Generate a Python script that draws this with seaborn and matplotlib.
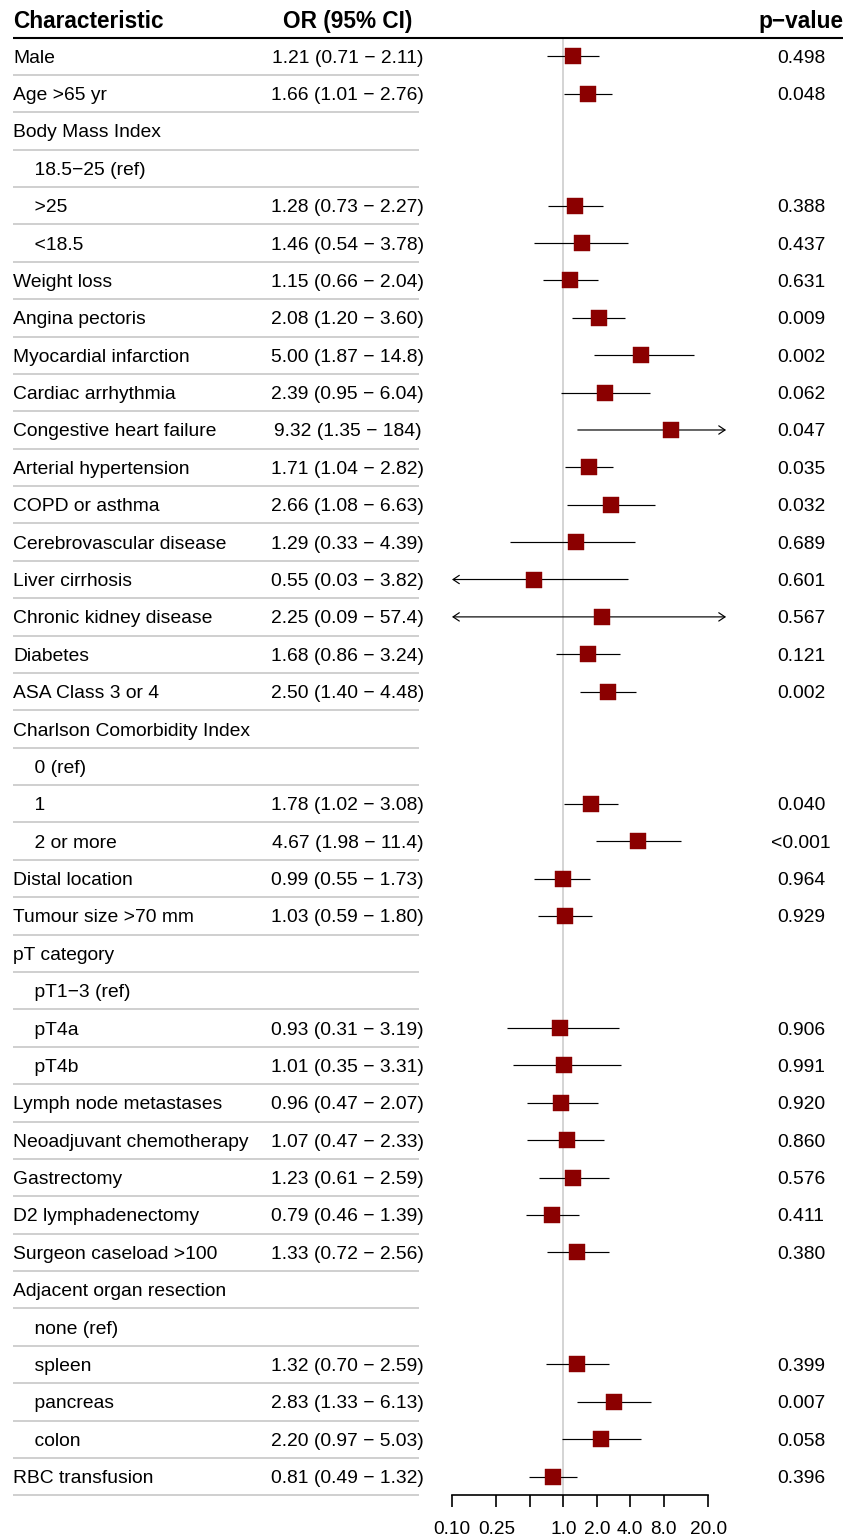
import numpy as np
import pandas as pd
import matplotlib
matplotlib.use("Agg")
import matplotlib.pyplot as plt
import matplotlib.transforms as mtransforms
import seaborn as sns

# ---- data -------------------------------------------------------------
labels = [
    "Male", "Age >65 yr", "Body Mass Index", "    18.5\u221225 (ref)", "    >25", "    <18.5",
    "Weight loss", "Angina pectoris", "Myocardial infarction", "Cardiac arrhythmia",
    "Congestive heart failure", "Arterial hypertension", "COPD or asthma",
    "Cerebrovascular disease", "Liver cirrhosis", "Chronic kidney disease", "Diabetes",
    "ASA Class 3 or 4", "Charlson Comorbidity Index", "    0 (ref)", "    1", "    2 or more",
    "Distal location", "Tumour size >70 mm", "pT category", "    pT1\u22123 (ref)", "    pT4a",
    "    pT4b", "Lymph node metastases", "Neoadjuvant chemotherapy", "Gastrectomy",
    "D2 lymphadenectomy", "Surgeon caseload >100", "Adjacent organ resection",
    "    none (ref)", "    spleen", "    pancreas", "    colon", "RBC transfusion",
]
nan = np.nan
odds = [1.21, 1.66, nan, nan, 1.28, 1.46, 1.15, 2.08, 5.00, 2.39, 9.32, 1.71, 2.66, 1.29,
        0.55, 2.25, 1.68, 2.50, nan, nan, 1.78, 4.67, 0.99, 1.03, nan, nan, 0.93, 1.01,
        0.96, 1.07, 1.23, 0.79, 1.33, nan, nan, 1.32, 2.83, 2.20, 0.81]
ci_low = [0.71, 1.01, nan, nan, 0.73, 0.54, 0.66, 1.20, 1.87, 0.95, 1.35, 1.04, 1.08, 0.33,
          0.03, 0.09, 0.86, 1.40, nan, nan, 1.02, 1.98, 0.55, 0.59, nan, nan, 0.31, 0.35,
          0.47, 0.47, 0.61, 0.46, 0.72, nan, nan, 0.70, 1.33, 0.97, 0.49]
ci_high = [2.11, 2.76, nan, nan, 2.27, 3.78, 2.04, 3.60, 14.8, 6.04, 184, 2.82, 6.63, 4.39,
           3.82, 57.4, 3.24, 4.48, nan, nan, 3.08, 11.4, 1.73, 1.80, nan, nan, 3.19, 3.31,
           2.07, 2.33, 2.59, 1.39, 2.56, nan, nan, 2.59, 6.13, 5.03, 1.32]
p_text = ["0.498", "0.048", "", "", "0.388", "0.437", "0.631", "0.009", "0.002", "0.062",
          "0.047", "0.035", "0.032", "0.689", "0.601", "0.567", "0.121", "0.002", "", "",
          "0.040", "<0.001", "0.964", "0.929", "", "", "0.906", "0.991", "0.920", "0.860",
          "0.576", "0.411", "0.380", "", "", "0.399", "0.007", "0.058", "0.396"]

headers = ["Characteristic", "OR (95% CI)", "p\u2212value"]
x_ticks = [0.1, 0.25, 0.5, 1, 2, 4, 8, 20]
x_tick_labels = ["0.10", "0.25", "", "1.0", "2.0", "4.0", "8.0", "20.0"]
x_limits = (0.1, 29.0)


def fmt(v):
    return f"{v:.2f}" if v < 10 else f"{v:.3g}"


df = pd.DataFrame({"label": labels, "odds": odds, "low": ci_low, "high": ci_high, "p": p_text})
df["row"] = np.arange(len(df))
df["or_text"] = [
    "" if np.isnan(o) else f"{fmt(o)} ({fmt(lo)} \u2212 {fmt(hi)})"
    for o, lo, hi in zip(df["odds"], df["low"], df["high"])
]

# ---- style ------------------------------------------------------------
sns.set_theme(style="white")
plt.rcParams["font.family"] = ["Liberation Sans", "DejaVu Sans"]
plt.rcParams["text.color"] = "black"
plt.rcParams["xtick.color"] = "black"
plt.rcParams["xtick.labelcolor"] = "black"
plt.rcParams["axes.labelcolor"] = "black"

W, H = 859, 1537
fig = plt.figure(figsize=(W / 100, H / 100), dpi=100)

n = len(df)
row_h = 37.38
top_px = 37.5
bottom_px = top_px + n * row_h
px_per_decade = 111.3
left_px = 452
width_px = np.log10(x_limits[1] / x_limits[0]) * px_per_decade
ax = fig.add_axes([left_px / W, 1 - bottom_px / H, width_px / W, n * row_h / H])
ax.set_xscale("log")
ax.set_xlim(*x_limits)
ax.set_ylim(n - 0.5, -0.5)

body_fs = 13.9
head_fs = 16.3
tr = mtransforms.blended_transform_factory(fig.transFigure, ax.transData)

# reference line at OR = 1
ax.axvline(1, color="#d4d4d4", lw=1.4, zorder=1)

# confidence intervals, with arrows where they run past the axis limits
lo_lim, hi_lim = x_limits
for _, r in df.dropna(subset=["odds"]).iterrows():
    lo, hi, y = r["low"], r["high"], r["row"]
    lo_cut, hi_cut = lo < lo_lim, hi > hi_lim
    a, b = max(lo, lo_lim), min(hi, hi_lim)
    if lo_cut or hi_cut:
        style = "<->" if (lo_cut and hi_cut) else "->"
        if lo_cut and not hi_cut:
            head, tail = a, b
        else:
            head, tail = b, a
        ax.annotate("", xy=(head, y), xytext=(tail, y),
                    arrowprops=dict(arrowstyle=f"{style},head_length=0.45,head_width=0.3",
                                    lw=0.85, color="black", shrinkA=0, shrinkB=0,
                                    mutation_scale=10), zorder=2)
    else:
        ax.hlines(y, a, b, color="black", lw=0.85, zorder=2)

# point estimates
sns.scatterplot(data=df.dropna(subset=["odds"]), x="odds", y="row", marker="s", s=128,
                color="#8B0000", edgecolor="#8B0000", linewidth=0.3, ax=ax, zorder=3,
                legend=False)

# x axis
for side in ["left", "right", "top"]:
    ax.spines[side].set_visible(False)
ax.spines["bottom"].set_bounds(x_ticks[0], x_ticks[-1])
ax.spines["bottom"].set_linewidth(1.2)
ax.spines["bottom"].set_color("black")
ax.set_xticks(x_ticks)
ax.set_xticklabels(x_tick_labels)
ax.xaxis.set_minor_locator(matplotlib.ticker.NullLocator())
ax.tick_params(axis="x", which="major", direction="out", length=8.5, width=1.2,
               color="black", labelcolor="black", labelsize=13.7, pad=10, bottom=True)
ax.set_yticks([])
ax.set_xlabel("")
ax.set_ylabel("")

# table columns
col_char, col_or, col_p = 13 / W, 347.5 / W, 801 / W
for _, r in df.iterrows():
    y = r["row"]
    ax.text(col_char, y, r["label"], transform=tr, ha="left", va="center_baseline",
            fontsize=body_fs, color="black", clip_on=False)
    if r["or_text"]:
        ax.text(col_or, y, r["or_text"], transform=tr, ha="center", va="center_baseline",
                fontsize=body_fs, color="black", clip_on=False)
    if r["p"]:
        ax.text(col_p, y, r["p"], transform=tr, ha="center", va="center_baseline",
                fontsize=body_fs, color="black", clip_on=False)
    ax.plot([13 / W, 419 / W], [y + 0.5, y + 0.5], transform=tr, color="#c2c2c2",
            lw=1.1, clip_on=False, solid_capstyle="butt")

# header
ax.text(col_char, -1, headers[0], transform=tr, ha="left", va="center_baseline",
        fontsize=head_fs, fontweight="bold", color="black", clip_on=False)
ax.text(col_or, -1, headers[1], transform=tr, ha="center", va="center_baseline",
        fontsize=head_fs, fontweight="bold", color="black", clip_on=False)
ax.text(843 / W, -1, headers[2], transform=tr, ha="right", va="center_baseline",
        fontsize=head_fs, fontweight="bold", color="black", clip_on=False)
ax.plot([13 / W, 843 / W], [-0.5, -0.5], transform=tr, color="black", lw=1.5,
        clip_on=False, solid_capstyle="butt")

ax.set_xlim(*x_limits)
ax.set_ylim(n - 0.5, -0.5)

fig.savefig("out.png", dpi=100, facecolor="white")
